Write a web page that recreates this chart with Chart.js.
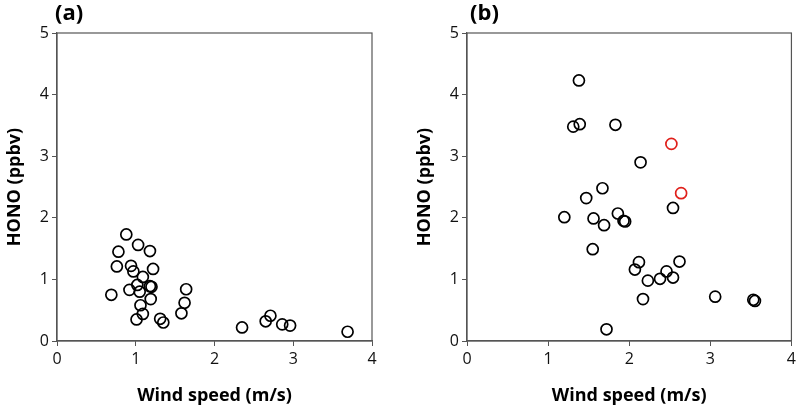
<!DOCTYPE html>
<html>
<head>
<meta charset="utf-8">
<script src="https://cdn.jsdelivr.net/npm/chart.js@4"></script>
<style>
  body { margin: 0; background: #fff; }
  .panel { position: absolute; top: 0; width: 400px; height: 409px; }
</style>
</head>
<body>
<div class="panel" style="left:0"><canvas id="chart-a"></canvas></div>
<div class="panel" style="left:400px"><canvas id="chart-b"></canvas></div>
<script>
// Panel (a): wind speed (m/s) vs HONO (ppbv)
var windA = [0.88, 1.03, 0.78, 1.18, 0.76, 0.94, 0.97, 1.22, 1.09, 0.69, 0.92, 1.02, 1.05, 1.18, 1.20,
             1.19, 1.06, 1.09, 1.01, 1.31, 1.35, 1.64, 1.62, 1.58, 2.35, 2.65, 2.71, 2.86, 2.96, 3.69];
var honoA = [1.73, 1.56, 1.45, 1.46, 1.21, 1.22, 1.13, 1.17, 1.04, 0.75, 0.83, 0.91, 0.80, 0.89, 0.88,
             0.68, 0.58, 0.44, 0.35, 0.36, 0.30, 0.84, 0.62, 0.45, 0.22, 0.32, 0.41, 0.27, 0.25, 0.15];

// Panel (b): black points
var windB = [1.38, 1.31, 1.39, 1.83, 2.14, 1.67, 1.47, 2.54, 1.20, 1.56, 1.86, 1.93, 1.95, 1.69, 1.55,
             2.12, 2.07, 2.62, 2.46, 2.23, 2.38, 2.54, 2.17, 3.06, 3.53, 3.55, 1.72];
var honoB = [4.23, 3.48, 3.52, 3.51, 2.90, 2.48, 2.32, 2.16, 2.01, 1.99, 2.07, 1.95, 1.94, 1.88, 1.49,
             1.28, 1.16, 1.29, 1.13, 0.98, 1.01, 1.03, 0.68, 0.72, 0.67, 0.65, 0.19];
// Panel (b): red points
var windBRed = [2.52, 2.64];
var honoBRed = [3.20, 2.40];

var xTicks = [0, 1, 2, 3, 4];
var yTicks = [0, 1, 2, 3, 4, 5];

function toPoints(xs, ys) {
    return xs.map(function (x, i) { return { x: x, y: ys[i] }; });
}

var FONT = "'Open Sans', 'Noto Sans', sans-serif";
var AXIS = '#555';

// frame, panel label and axis titles
var decor = {
    id: 'decor',
    afterDraw: function (chart, args, opts) {
        var c = chart.ctx, a = chart.chartArea;
        c.save();
        c.strokeStyle = AXIS;
        c.lineWidth = 1.2;
        c.strokeRect(a.left, a.top, a.right - a.left, a.bottom - a.top);
        c.fillStyle = '#000';
        c.font = 'bold 22px ' + FONT;
        c.textBaseline = 'alphabetic';
        c.textAlign = 'left';
        c.fillText(opts.label, opts.labelX, 20);
        c.font = 'bold 18px ' + FONT;
        c.textAlign = 'center';
        c.textBaseline = 'middle';
        c.fillText('Wind speed (m/s)', (a.left + a.right) / 2, 396);
        c.translate(opts.yTitleX, (a.top + a.bottom) / 2);
        c.rotate(-Math.PI / 2);
        c.fillText('HONO (ppbv)', 0, 0);
        c.restore();
    }
};

function makeChart(id, datasets, left, right, labelX, yTitleX, label) {
    return new Chart(document.getElementById(id), {
        type: 'scatter',
        data: { datasets: datasets },
        options: {
            responsive: true,
            maintainAspectRatio: false,
            animation: false,
            layout: { padding: { top: 33, right: 400 - right, bottom: 0, left: 0 } },
            plugins: {
                legend: { display: false },
                tooltip: { enabled: false },
                decor: { label: label, labelX: labelX, yTitleX: yTitleX }
            },
            scales: {
                x: {
                    min: 0, max: 4,
                    afterBuildTicks: function (s) { s.ticks = xTicks.map(function (v) { return { value: v }; }); },
                    afterFit: function (s) { s.height = 409 - 341; },
                    grid: { drawOnChartArea: false, tickLength: 5, color: AXIS },
                    border: { color: AXIS, width: 1.2 },
                    ticks: { color: '#111', font: { family: FONT, size: 16 }, padding: 4 }
                },
                y: {
                    min: 0, max: 5,
                    afterBuildTicks: function (s) { s.ticks = yTicks.map(function (v) { return { value: v }; }); },
                    afterFit: function (s) { s.width = left; },
                    grid: { drawOnChartArea: false, tickLength: 5, color: AXIS },
                    border: { color: AXIS, width: 1.2 },
                    ticks: { color: '#111', font: { family: FONT, size: 16 }, padding: 3 }
                }
            }
        },
        plugins: [decor]
    });
}

function series(xs, ys, colour) {
    return {
        data: toPoints(xs, ys),
        pointRadius: 5.5,
        pointBorderWidth: 1.7,
        pointBorderColor: colour,
        pointBackgroundColor: 'rgba(0,0,0,0)',
        showLine: false
    };
}

makeChart('chart-a', [series(windA, honoA, '#000')], 57, 372, 55, 15, '(a)');
makeChart('chart-b', [series(windB, honoB, '#000'), series(windBRed, honoBRed, '#e0201b')], 67, 392, 70, 25, '(b)');
</script>
</body>
</html>
